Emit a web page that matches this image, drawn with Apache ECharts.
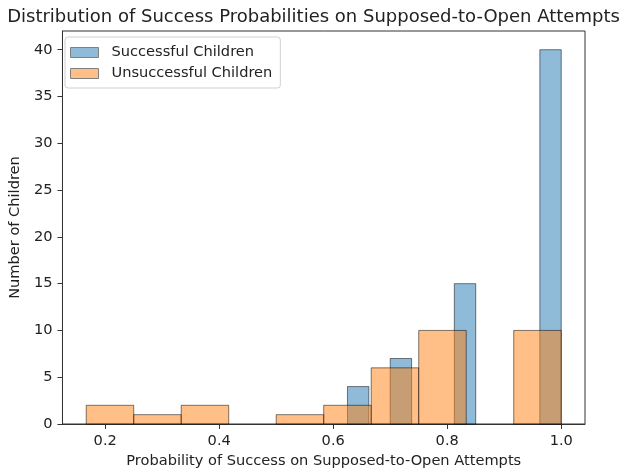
<!DOCTYPE html>
<html>
<head>
<meta charset="utf-8">
<script src="https://cdn.jsdelivr.net/npm/echarts@6/dist/echarts.min.js"></script>
<style>html,body{margin:0;padding:0;background:#fff}#c{width:627px;height:476px}</style>
</head>
<body>
<div id="c"></div>
<script>
// Successful children: 10 bins from 0.625 to 1.0
const successEdges = [0.625, 0.6625, 0.7, 0.7375, 0.775, 0.8125, 0.85, 0.8875, 0.925, 0.9625, 1.0];
const successCounts = [4, 0, 7, 0, 0, 15, 0, 0, 0, 40];
// Unsuccessful children: 10 bins from 1/6 to 1.0
const unsuccessEdges = [1/6, 0.25, 1/3, 5/12, 0.5, 7/12, 2/3, 0.75, 5/6, 11/12, 1.0];
const unsuccessCounts = [2, 1, 2, 0, 1, 2, 6, 10, 0, 10];
const xTicks = [0.2, 0.4, 0.6, 0.8, 1.0];
const yTicks = [0, 5, 10, 15, 20, 25, 30, 35, 40];

function toBins(edges, counts) {
  const out = [];
  for (let i = 0; i < counts.length; i++) {
    if (counts[i] > 0) out.push([edges[i], edges[i + 1], counts[i]]);
  }
  return out;
}

const FONT = 'DejaVu Sans';
const TXT = '#222';
const LINE = '#333';
const chart = echarts.init(document.getElementById('c'), null, {renderer: 'canvas'});

function renderBar(fill) {
  return function (params, api) {
    const p0 = api.coord([api.value(0), api.value(2)]);
    const p1 = api.coord([api.value(1), 0]);
    return {
      type: 'rect',
      shape: {x: p0[0], y: p0[1], width: p1[0] - p0[0], height: p1[1] - p0[1]},
      style: {fill: fill, stroke: '#000', lineWidth: 1, opacity: 0.5}
    };
  };
}

chart.setOption({
  animation: false,
  backgroundColor: '#fff',
  textStyle: {fontFamily: FONT},
  title: {
    text: 'Distribution of Success Probabilities on Supposed-to-Open Attempts',
    left: 'center', top: 3,
    textStyle: {fontFamily: FONT, fontSize: 18, fontWeight: 'normal', color: TXT}
  },
  grid: {left: 57, right: 42, top: 31, bottom: 52, show: true, borderColor: LINE, borderWidth: 1, backgroundColor: 'transparent'},
  legend: {
    orient: 'vertical', left: 65, top: 37,
    padding: [8, 8, 7, 5], itemGap: 6, itemWidth: 28, itemHeight: 10,
    backgroundColor: '#fff', borderColor: '#d0d0d0', borderWidth: 1, borderRadius: 3,
    textStyle: {fontFamily: FONT, fontSize: 14.6, color: TXT, padding: [0, 0, 0, 8]},
    data: [
      {name: 'Successful Children', icon: 'rect', itemStyle: {color: '#8fbbd9', borderColor: '#808080', borderWidth: 1}},
      {name: 'Unsuccessful Children', icon: 'rect', itemStyle: {color: '#ffbf86', borderColor: '#808080', borderWidth: 1}}
    ]
  },
  xAxis: {
    type: 'value', min: 0.125, max: 1.0417,
    name: 'Probability of Success on Supposed-to-Open Attempts',
    nameLocation: 'middle', nameGap: 29,
    nameTextStyle: {fontFamily: FONT, fontSize: 14.6, color: TXT},
    splitLine: {show: false},
    axisLine: {show: true, onZero: false, lineStyle: {color: LINE}},
    axisTick: {show: true, length: 5, lineStyle: {color: LINE}, customValues: xTicks},
    axisLabel: {fontFamily: FONT, fontSize: 14.6, color: TXT, margin: 10, customValues: xTicks, formatter: v => v.toFixed(1)}
  },
  yAxis: {
    type: 'value', min: 0, max: 42,
    name: 'Number of Children',
    nameLocation: 'middle', nameGap: 38,
    nameTextStyle: {fontFamily: FONT, fontSize: 14.6, color: TXT},
    splitLine: {show: false},
    axisLine: {show: true, lineStyle: {color: LINE}},
    axisTick: {show: true, length: 5, lineStyle: {color: LINE}, customValues: yTicks},
    axisLabel: {fontFamily: FONT, fontSize: 14.6, color: TXT, margin: 10, customValues: yTicks}
  },
  series: [
    {
      name: 'Successful Children', type: 'custom',
      itemStyle: {color: '#8fbbd9'},
      renderItem: renderBar('#1f77b4'),
      encode: {x: [0, 1], y: 2},
      data: toBins(successEdges, successCounts)
    },
    {
      name: 'Unsuccessful Children', type: 'custom',
      itemStyle: {color: '#ffbf86'},
      renderItem: renderBar('#ff7f0e'),
      encode: {x: [0, 1], y: 2},
      data: toBins(unsuccessEdges, unsuccessCounts)
    }
  ]
});
</script>
</body>
</html>
